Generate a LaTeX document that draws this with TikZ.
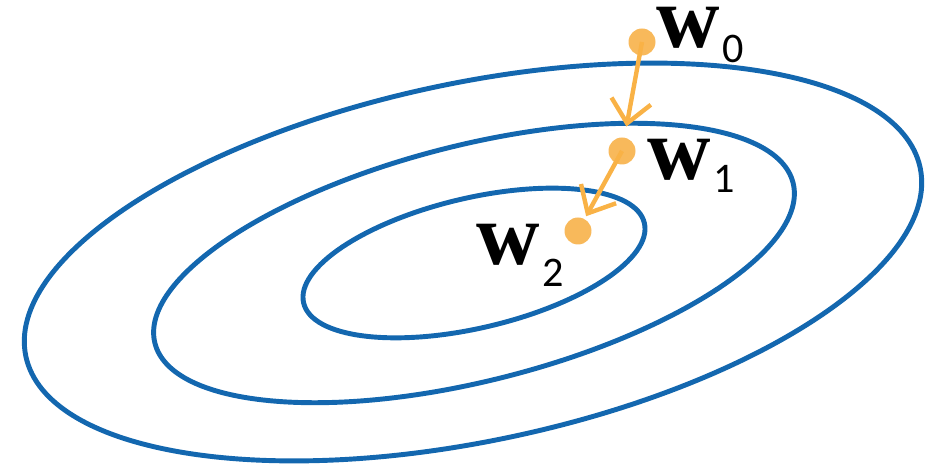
\documentclass[tikz,border=0pt]{standalone}
\usepackage{fontspec}
\setmainfont{Liberation Serif}
\newfontfamily\subfont{Carlito}
\usetikzlibrary{arrows.meta,positioning}
\definecolor{gd-blue}{HTML}{1367AF}
\definecolor{gd-dot}{HTML}{F8B95B}
\definecolor{gd-step}{HTML}{F9B246}
% #1 = index, #2 = drop of the index below the baseline
\newcommand{\wlabel}[2]{{\fontsize{50}{50}\selectfont\bfseries w}\kern0.06cm\lower#2\hbox{\fontsize{24}{24}\selectfont\subfont #1}}

\begin{document}
\begin{tikzpicture}[
    x=0.02cm, y=-0.02cm,
    >={Straight Barb[length=4.5mm,width=8mm]}
  ]

  % Styles for the level sets and the descent steps
  \tikzset{
    contour/.style={draw=gd-blue, line width=2.8pt},
    iterate/.style={circle, fill=gd-dot, minimum size=0.54cm, inner sep=0pt},
    stepline/.style={->, draw=gd-step, line width=2.5pt},
    wtext/.style={anchor=base west, inner sep=0pt}
  }
  \useasboundingbox (0,0) rectangle (941,465);

  % Level sets of the loss
  \draw[contour, rotate around={11.9:(473,262)}] (473,262) ellipse [x radius=457, y radius=179];
  \draw[contour, rotate around={14.1:(474,263)}] (474,263) ellipse [x radius=329, y radius=118];
  \draw[contour, rotate around={13.2:(474,263)}] (474,263) ellipse [x radius=175, y radius=65];

  % Iterates
  \node (w0dot) [iterate] at (642,42) {};
  \node (w1dot) [iterate] at (622,151) {};
  \node (w2dot) [iterate] at (578,231) {};

  \node (w0text) [wtext] at (656,48) {\wlabel{0}{0.3cm}};
  \node (w1text) [wtext] at (647,180) {\wlabel{1}{0.26cm}};
  \node (w2text) [wtext] at (476,265) {\wlabel{2}{0.44cm}};

  % Gradient steps
  \draw[stepline, shorten >=0.22cm] (w0dot.center) -- (w1dot);
  \draw[stepline, shorten >=0.06cm] (w1dot.center) -- (w2dot);

\end{tikzpicture}
\end{document}
